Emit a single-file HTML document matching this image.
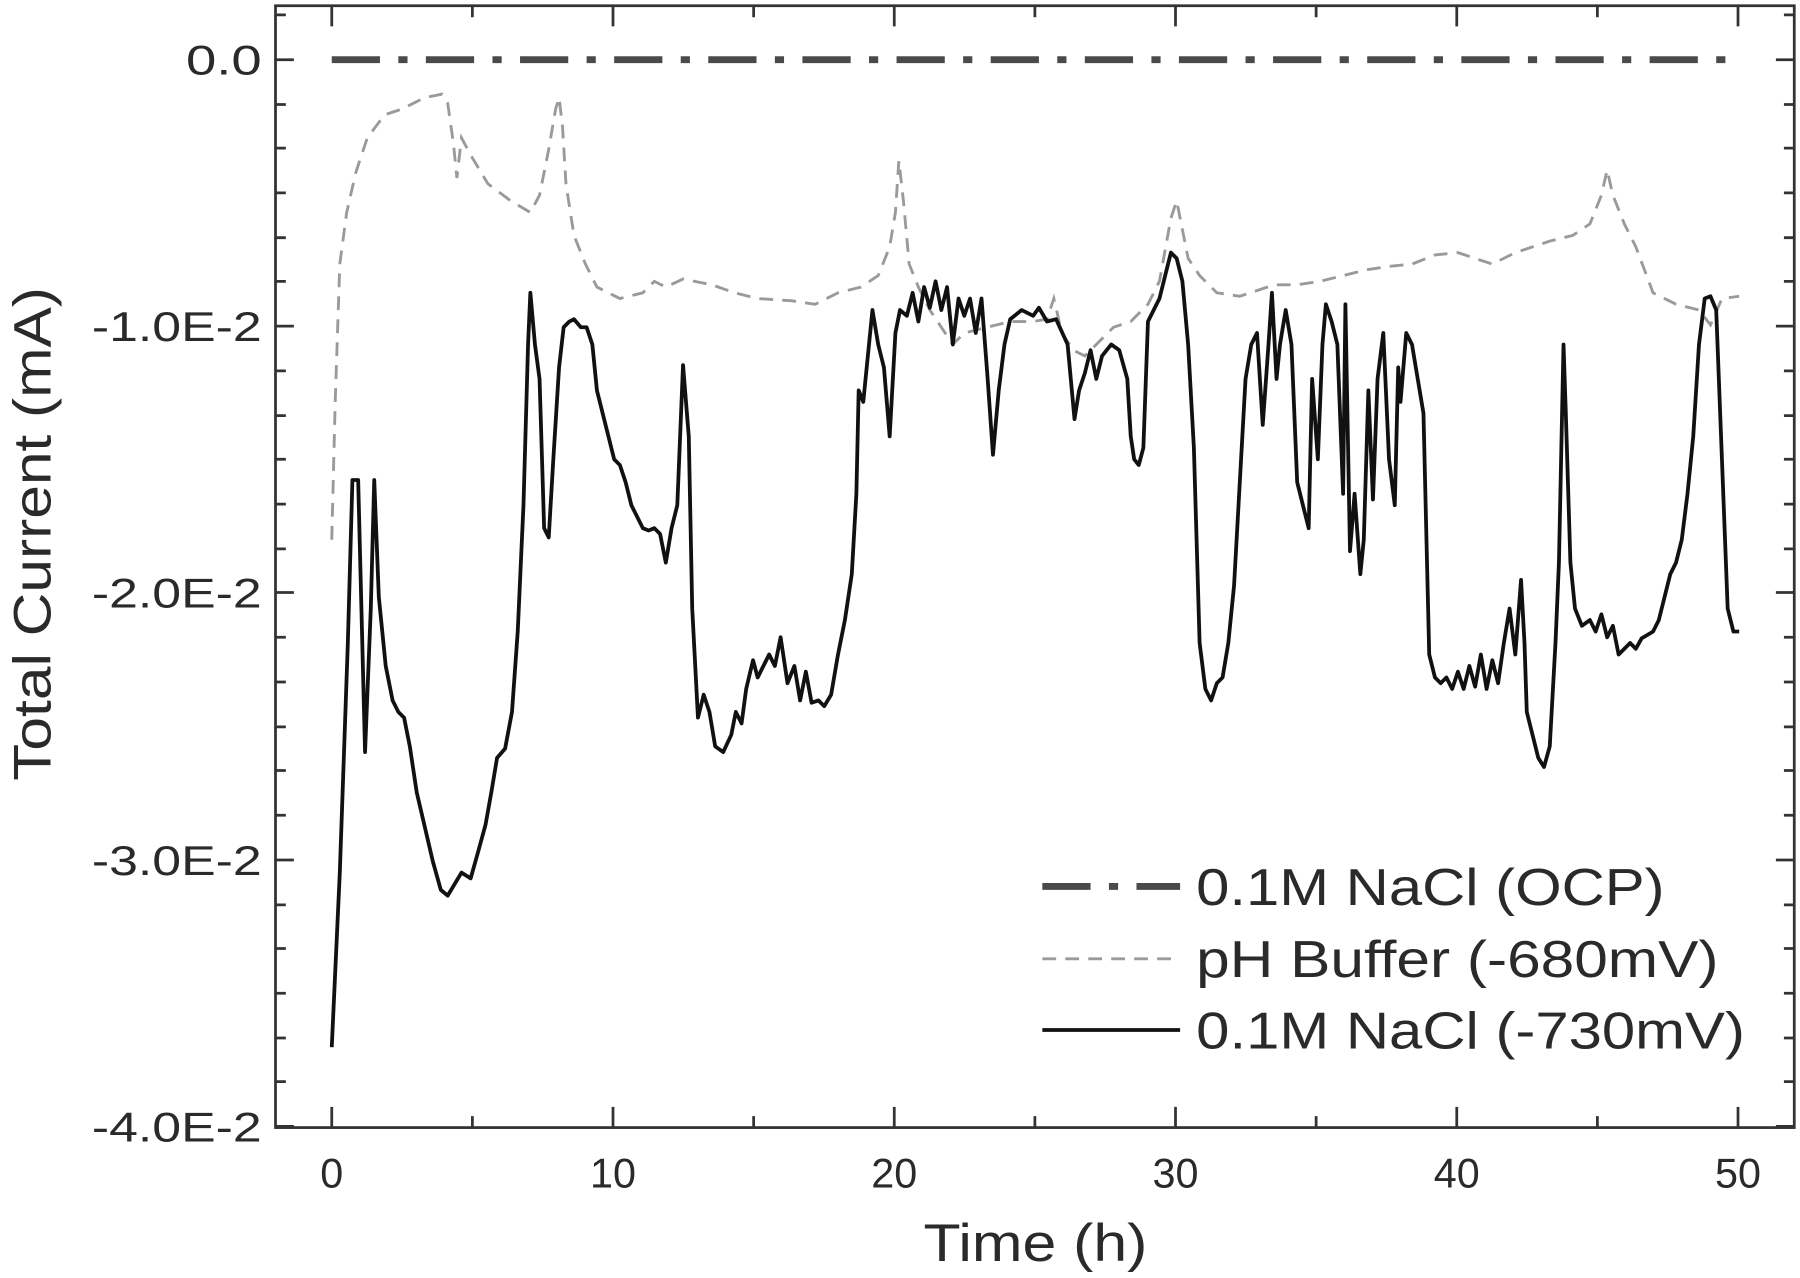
<!DOCTYPE html>
<html><head><meta charset="utf-8"><style>
html,body{margin:0;padding:0;background:#fff;}
svg{display:block;}
text{font-family:"Liberation Sans",Arial,sans-serif;fill:#2a2a2a;}
</style></head><body>
<svg width="1800" height="1278" viewBox="0 0 1568 1113" preserveAspectRatio="none" xmlns="http://www.w3.org/2000/svg">
<rect width="1568" height="1113" fill="#fff"/>
<g stroke="#333" stroke-width="2.4" fill="none">
<rect x="240" y="5" width="1323" height="977"/>
<path d="M289 982v-18M534 982v-18M779 982v-18M1024 982v-18M1269 982v-18M1514 982v-18
M411.5 982v-10M656.5 982v-10M901.5 982v-10M1146.5 982v-10M1391.5 982v-10
M289 5v18M534 5v18M779 5v18M1024 5v18M1269 5v18M1514 5v18
M411.5 5v10M656.5 5v10M901.5 5v10M1146.5 5v10M1391.5 5v10"/>
<path d="M240 52h16M240 284h16M240 516h16M240 749h16M240 981h16
M1563 52h-16M1563 284h-16M1563 516h-16M1563 749h-16M1563 981h-16
M240 13h9M240 91h9M240 129h9M240 168h9M240 207h9M240 245h9
M240 323h9M240 362h9M240 400h9M240 439h9M240 478h9
M240 555h9M240 594h9M240 633h9M240 671h9M240 710h9
M240 788h9M240 826h9M240 865h9M240 904h9M240 942h9
M1563 13h-9M1563 91h-9M1563 129h-9M1563 168h-9M1563 207h-9M1563 245h-9
M1563 323h-9M1563 362h-9M1563 400h-9M1563 439h-9M1563 478h-9
M1563 555h-9M1563 594h-9M1563 633h-9M1563 671h-9M1563 710h-9
M1563 788h-9M1563 826h-9M1563 865h-9M1563 904h-9M1563 942h-9"/>
</g>
<g font-size="36" text-anchor="end" textLength="0">
<text x="228" y="65" textLength="66" lengthAdjust="spacingAndGlyphs">0.0</text>
<text x="228" y="297" textLength="148" lengthAdjust="spacingAndGlyphs">-1.0E-2</text>
<text x="228" y="529" textLength="148" lengthAdjust="spacingAndGlyphs">-2.0E-2</text>
<text x="228" y="762" textLength="148" lengthAdjust="spacingAndGlyphs">-3.0E-2</text>
<text x="228" y="994" textLength="148" lengthAdjust="spacingAndGlyphs">-4.0E-2</text>
</g>
<g font-size="36" text-anchor="middle">
<text x="289" y="1034">0</text><text x="534" y="1034">10</text><text x="779" y="1034">20</text>
<text x="1024" y="1034">30</text><text x="1269" y="1034">40</text><text x="1514" y="1034">50</text>
</g>
<text x="902" y="1098" font-size="46" text-anchor="middle" textLength="195" lengthAdjust="spacingAndGlyphs">Time (h)</text>
<text transform="translate(44,465) rotate(-90)" font-size="46" text-anchor="middle" textLength="430" lengthAdjust="spacingAndGlyphs">Total Current (mA)</text>
<line x1="289" y1="52" x2="1514" y2="52" stroke="#4a4a4a" stroke-width="6" stroke-dasharray="42 16 8 16"/>
<polyline fill="none" stroke="#9a9a9a" stroke-width="2.5" stroke-dasharray="12 8" points="289,470 292,350 296,230 302,185 310,150 320,120 335,100 350,95 370,85 385,82 390,90 395,125 398,155 402,120 410,135 425,160 445,175 462,185 470,170 478,130 484,95 487,85 490,110 493,160 500,205 510,230 520,250 540,260 560,255 570,245 580,250 595,243 620,248 640,255 660,260 690,262 710,265 730,255 750,250 765,240 775,215 780,185 783,140 787,175 792,230 800,250 810,270 820,285 830,300 840,290 860,285 880,280 900,280 912,278 918,260 925,290 935,305 945,310 955,300 970,285 985,280 1000,265 1010,245 1020,190 1025,175 1030,200 1035,225 1045,240 1060,255 1080,258 1110,248 1130,248 1150,245 1170,240 1190,235 1210,232 1230,230 1250,222 1270,220 1300,230 1320,220 1350,210 1370,205 1385,195 1395,170 1400,148 1405,170 1415,195 1425,215 1440,255 1460,265 1480,270 1490,283 1500,260 1515,258"/>
<polyline fill="none" stroke="#111" stroke-width="3.3" stroke-linejoin="round" points="289,912 296,760 303,560 307,418 312,418 318,655 323,530 326,418 330,520 336,580 342,610 347,620 352,625 357,650 363,690 370,720 377,750 384,775 390,780 396,770 402,760 410,765 417,740 423,718 428,690 433,660 440,652 446,620 451,550 456,440 460,300 462,255 466,300 470,330 474,460 478,468 482,400 487,320 491,285 496,280 500,278 506,285 511,285 516,300 520,340 525,360 530,380 535,400 540,405 545,420 550,440 555,450 560,460 565,462 570,460 575,465 580,490 585,460 590,440 595,318 600,380 603,530 608,625 613,605 618,620 623,650 630,655 637,640 641,620 646,630 650,600 656,575 660,590 665,580 670,570 675,580 680,555 686,595 692,580 697,610 702,585 707,612 713,610 718,615 724,605 730,570 736,540 742,500 746,430 748,340 752,350 756,310 760,270 765,300 770,320 775,380 780,290 784,270 790,275 795,255 800,280 805,250 810,268 815,245 820,270 825,250 830,300 835,260 840,275 845,260 850,290 855,260 860,325 865,396 870,340 875,300 880,278 890,270 900,275 905,268 912,280 920,278 930,300 936,365 940,340 945,325 950,305 955,330 960,310 968,300 975,305 982,330 985,380 988,400 992,405 996,390 1000,280 1005,270 1010,260 1015,240 1020,220 1025,225 1030,245 1035,300 1040,390 1045,560 1050,600 1055,610 1060,595 1065,590 1070,560 1075,510 1080,420 1085,330 1090,300 1095,290 1100,370 1105,300 1108,255 1112,330 1115,300 1120,270 1125,300 1130,420 1135,440 1140,460 1143,330 1148,400 1152,300 1155,265 1160,280 1165,300 1170,430 1172,265 1176,480 1180,430 1185,500 1188,470 1192,340 1196,435 1200,330 1205,290 1210,400 1215,440 1218,320 1220,350 1225,290 1230,300 1235,330 1240,360 1245,570 1250,590 1255,595 1260,590 1265,600 1270,585 1275,600 1280,580 1285,598 1290,570 1295,600 1300,575 1305,595 1310,560 1315,530 1320,570 1325,505 1328,560 1330,620 1335,640 1340,660 1345,668 1350,650 1355,560 1358,490 1362,300 1364,360 1368,490 1372,530 1378,545 1385,540 1390,550 1395,535 1400,555 1405,545 1410,570 1415,565 1420,560 1425,565 1430,556 1440,550 1445,540 1450,520 1455,500 1460,490 1465,470 1470,430 1475,380 1480,300 1485,260 1490,258 1495,270 1500,400 1505,530 1510,550 1515,550"/>
<line x1="908" y1="772" x2="1028" y2="772" stroke="#4a4a4a" stroke-width="6" stroke-dasharray="42 16 8 16"/>
<line x1="908" y1="835" x2="1028" y2="835" stroke="#9a9a9a" stroke-width="2.5" stroke-dasharray="12 8"/>
<line x1="908" y1="897" x2="1028" y2="897" stroke="#111" stroke-width="3.3"/>
<g font-size="45">
<text x="1042" y="788" textLength="408" lengthAdjust="spacingAndGlyphs">0.1M NaCl (OCP)</text>
<text x="1042" y="851" textLength="455" lengthAdjust="spacingAndGlyphs">pH Buffer (-680mV)</text>
<text x="1042" y="913" textLength="478" lengthAdjust="spacingAndGlyphs">0.1M NaCl (-730mV)</text>
</g>
</svg>
</body></html>
